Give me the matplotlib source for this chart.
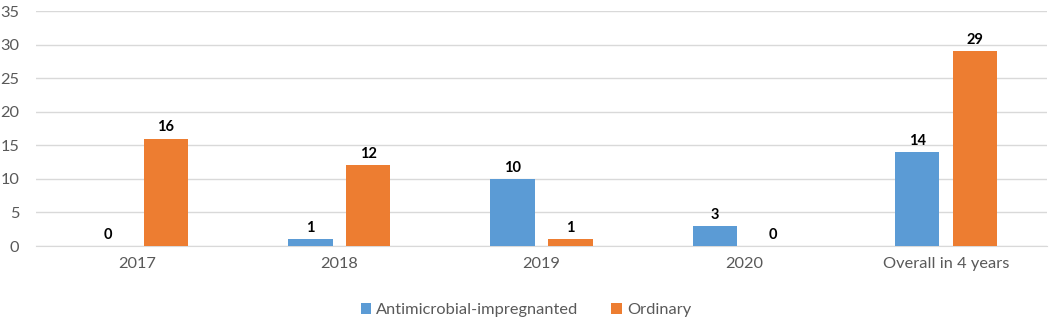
import matplotlib
matplotlib.use("Agg")
import matplotlib.pyplot as plt
import numpy as np

categories = ["2017", "2018", "2019", "2020", "Overall in 4 years"]
antimicrobial = [0, 1, 10, 3, 14]
ordinary = [16, 12, 1, 0, 29]
series_names = ["Antimicrobial-impregnanted", "Ordinary"]
yticks = [0, 5, 10, 15, 20, 25, 30, 35]

plt.rcParams['font.family'] = ['Lato', 'DejaVu Sans']

fig = plt.figure(figsize=(10.52, 3.21), dpi=100)
ax = fig.add_axes([0.0342, 0.2336, 0.9611, 0.7321])

x = np.arange(len(categories))
w = 0.22
off = 0.143
blue = "#5B9BD5"
orange = "#ED7D31"
b1 = ax.bar(x - off, antimicrobial, w, color=blue, label=series_names[0], zorder=3)
b2 = ax.bar(x + off, ordinary, w, color=orange, label=series_names[1], zorder=3)

for bars, vals in ((b1, antimicrobial), (b2, ordinary)):
    for r, v in zip(bars, vals):
        ax.annotate(str(v), (r.get_x() + r.get_width() / 2, v), xytext=(0, 3),
                    textcoords="offset points", ha="center", va="bottom",
                    fontsize=10.5, fontweight="bold", color="black")

ax.set_xlim(-0.5, len(categories) - 0.5)
ax.set_ylim(0, 35)
ax.set_yticks(yticks)
ax.set_xticks(x)
ax.set_xticklabels(categories)
ax.tick_params(axis="both", length=0, labelsize=11.8, colors="#595959")
ax.tick_params(axis="y", pad=12)
ax.tick_params(axis="x", pad=8)
ax.grid(axis="y", color="#D9D9D9", linewidth=1, zorder=0)
for s in ["left", "right", "top"]:
    ax.spines[s].set_visible(False)
ax.spines["bottom"].set_color("#D9D9D9")

fig.legend(loc="center", bbox_to_anchor=(0.5, 0.035), ncol=2, frameon=False,
           fontsize=11.8, handlelength=0.65, handleheight=0.65, columnspacing=2.0,
           handletextpad=0.3, labelcolor="#595959")

fig.savefig("out.png", dpi=100)
